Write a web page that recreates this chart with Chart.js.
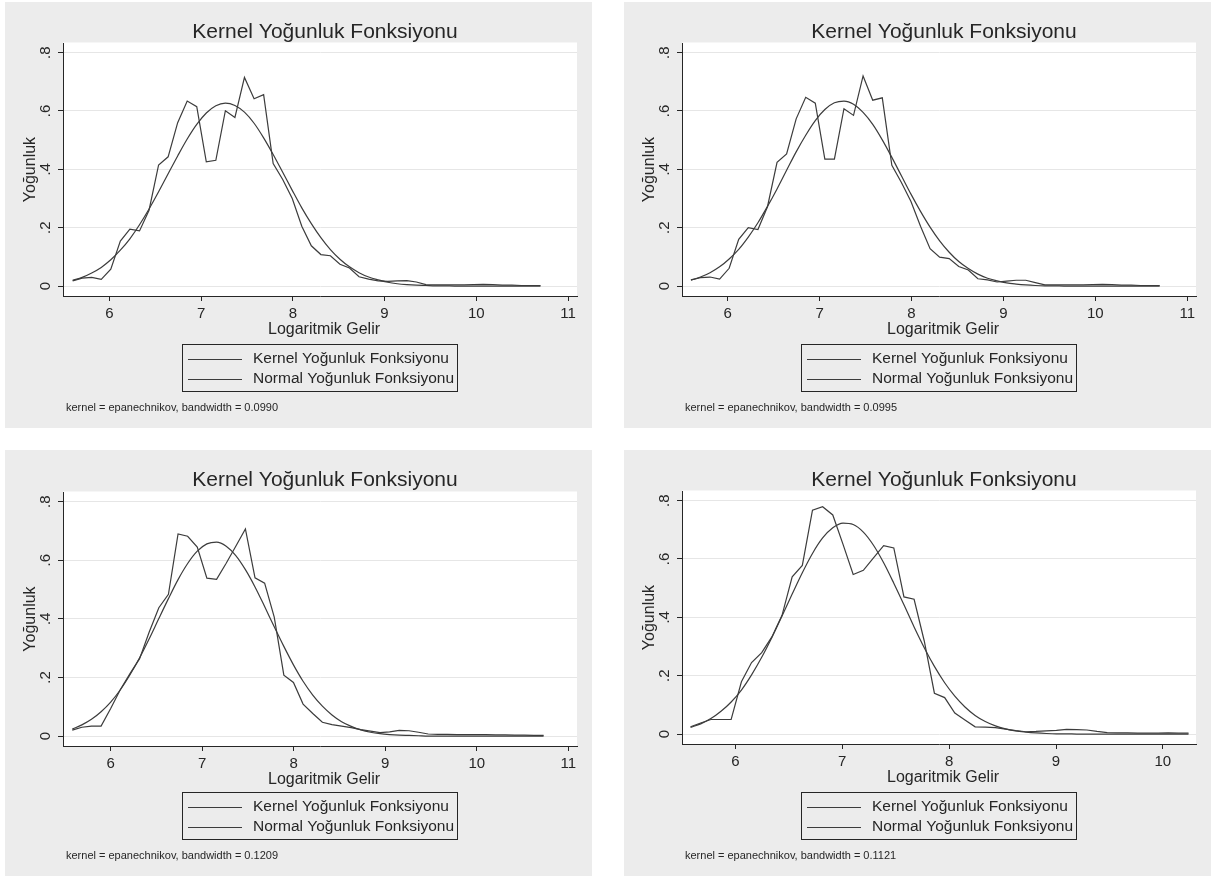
<!DOCTYPE html>
<html>
<head>
<meta charset="utf-8">
<script src="https://cdn.jsdelivr.net/npm/chart.js@4.4.0/dist/chart.umd.min.js"></script>
<style>
  body { margin: 0; background: #fff; width: 1211px; height: 878px; position: relative; overflow: hidden; }
  .panel { position: absolute; width: 587px; height: 426px; background: #ececec; }
  .panel canvas { display: block; }
</style>
</head>
<body>
<div class="panel" style="left:5px;top:2px"><canvas id="c1" width="587" height="426"></canvas></div>
<div class="panel" style="left:624px;top:2px"><canvas id="c2" width="587" height="426"></canvas></div>
<div class="panel" style="left:5px;top:450px"><canvas id="c3" width="587" height="426"></canvas></div>
<div class="panel" style="left:624px;top:450px"><canvas id="c4" width="587" height="426"></canvas></div>
<script>
// evaluation grids (logaritmik gelir)
const gridA = [5.600,5.704,5.808,5.912,6.016,6.120,6.224,6.329,6.433,6.537,6.641,6.745,6.849,6.953,7.057,7.161,7.265,7.369,7.473,7.578,7.682,7.786,7.890,7.994,8.098,8.202,8.306,8.410,8.514,8.618,8.722,8.827,8.931,9.035,9.139,9.243,9.347,9.451,9.555,9.659,9.763,9.867,9.971,10.076,10.180,10.284,10.388,10.492,10.596,10.700]
const gridC = [5.580,5.685,5.790,5.895,6.000,6.106,6.211,6.316,6.421,6.526,6.631,6.736,6.841,6.946,7.051,7.157,7.262,7.367,7.472,7.577,7.682,7.787,7.892,7.997,8.102,8.208,8.313,8.418,8.523,8.628,8.733,8.838,8.943,9.048,9.153,9.259,9.364,9.469,9.574,9.679,9.784,9.889,9.994,10.099,10.204,10.310,10.415,10.520,10.625,10.730]
const gridB = [5.580,5.675,5.770,5.865,5.960,6.056,6.151,6.246,6.341,6.436,6.531,6.626,6.721,6.816,6.911,7.007,7.102,7.197,7.292,7.387,7.482,7.577,7.672,7.767,7.862,7.958,8.053,8.148,8.243,8.338,8.433,8.528,8.623,8.718,8.813,8.909,9.004,9.099,9.194,9.289,9.384,9.479,9.574,9.669,9.764,9.860,9.955,10.050,10.145,10.240]

// kernel density values
const kernel1 = [0.018,0.027,0.030,0.023,0.058,0.154,0.195,0.189,0.260,0.415,0.443,0.560,0.634,0.615,0.426,0.431,0.601,0.578,0.715,0.642,0.656,0.420,0.365,0.300,0.205,0.138,0.108,0.104,0.075,0.062,0.032,0.024,0.018,0.016,0.018,0.019,0.014,0.005,0.004,0.004,0.004,0.004,0.005,0.006,0.005,0.003,0.003,0.002,0.002,0.002]
const kernel2 = [0.021,0.029,0.031,0.024,0.061,0.160,0.200,0.194,0.272,0.424,0.453,0.573,0.647,0.627,0.435,0.435,0.608,0.585,0.720,0.637,0.645,0.414,0.355,0.290,0.205,0.128,0.099,0.094,0.067,0.055,0.025,0.021,0.014,0.017,0.020,0.020,0.012,0.004,0.004,0.004,0.004,0.004,0.005,0.006,0.005,0.003,0.003,0.002,0.002,0.002]
const kernel3 = [0.020,0.030,0.034,0.034,0.094,0.159,0.213,0.264,0.355,0.438,0.484,0.690,0.682,0.645,0.539,0.535,0.590,0.648,0.707,0.540,0.522,0.406,0.208,0.183,0.109,0.077,0.047,0.039,0.034,0.029,0.022,0.017,0.012,0.014,0.019,0.018,0.013,0.007,0.006,0.006,0.005,0.005,0.005,0.005,0.004,0.004,0.003,0.003,0.002,0.002]
const kernel4 = [0.025,0.038,0.050,0.050,0.050,0.179,0.245,0.279,0.333,0.407,0.539,0.578,0.767,0.779,0.751,0.650,0.547,0.561,0.604,0.646,0.638,0.470,0.462,0.319,0.140,0.125,0.072,0.048,0.025,0.024,0.022,0.017,0.012,0.008,0.009,0.011,0.013,0.016,0.015,0.014,0.009,0.005,0.004,0.004,0.003,0.003,0.003,0.004,0.003,0.003]

// normal density values
const normal1 = [0.020,0.030,0.045,0.064,0.090,0.123,0.162,0.210,0.264,0.323,0.385,0.446,0.504,0.554,0.593,0.618,0.627,0.619,0.596,0.558,0.508,0.451,0.390,0.328,0.268,0.214,0.166,0.125,0.092,0.066,0.046,0.031,0.021,0.013,0.008,0.005,0.003,0.002,0.001,0.001,0,0,0,0,0,0,0,0,0,0]
const normal2 = [0.020,0.031,0.046,0.066,0.093,0.126,0.168,0.217,0.273,0.333,0.397,0.460,0.517,0.567,0.605,0.628,0.634,0.623,0.595,0.554,0.501,0.441,0.378,0.315,0.256,0.202,0.155,0.116,0.084,0.060,0.041,0.027,0.018,0.011,0.007,0.004,0.002,0.001,0.001,0,0,0,0,0,0,0,0,0,0,0]
const normal3 = [0.024,0.038,0.057,0.083,0.116,0.158,0.209,0.267,0.332,0.401,0.469,0.534,0.589,0.631,0.656,0.662,0.648,0.616,0.568,0.509,0.442,0.373,0.306,0.243,0.187,0.140,0.102,0.072,0.049,0.033,0.021,0.013,0.008,0.005,0.003,0.002,0.001,0,0,0,0,0,0,0,0,0,0,0,0,0]
const normal4 = [0.023,0.035,0.053,0.078,0.110,0.151,0.203,0.263,0.331,0.405,0.480,0.553,0.619,0.672,0.707,0.723,0.718,0.692,0.647,0.587,0.517,0.443,0.367,0.296,0.232,0.176,0.130,0.093,0.064,0.043,0.028,0.018,0.011,0.007,0.004,0.002,0.001,0.001,0,0,0,0,0,0,0,0,0,0,0,0]

const yTickValues = [0, 0.2, 0.4, 0.6, 0.8]
const yTickLabels = ['0', '.2', '.4', '.6', '.8']
const xTicksWide = [6, 7, 8, 9, 10, 11]
const xTicksNarrow = [6, 7, 8, 9, 10]
const bandwidths = ['0.0990', '0.0995', '0.1209', '0.1121']
const seriesNames = ['Kernel Yoğunluk Fonksiyonu', 'Normal Yoğunluk Fonksiyonu']

const TITLE = 'Kernel Yoğunluk Fonksiyonu'
const X_TITLE = 'Logaritmik Gelir'
const Y_TITLE = 'Yoğunluk'
const INK = '#262626'
const LINE = '#3c3c3c'
const FONT = '"Liberation Sans", Arial, sans-serif'

Chart.defaults.font.family = FONT
Chart.defaults.color = INK

// Stata-like decorations: white plot region, rotated y labels, titles, legend box, note
const stataLook = {
  id: 'stataLook',
  beforeDraw(chart) {
    const { ctx, chartArea: a } = chart
    ctx.save()
    ctx.fillStyle = '#ffffff'
    ctx.fillRect(a.left, a.top - 0.5, a.right - a.left, a.bottom - a.top + 0.5)
    ctx.restore()
  },
  afterDraw(chart, args, opts) {
    const { ctx, chartArea: a } = chart
    const yScale = chart.scales.y
    const cx = (a.left + a.right) / 2 + 4
    ctx.save()
    ctx.fillStyle = INK

    // title
    ctx.font = '21px ' + FONT
    ctx.textAlign = 'center'
    ctx.textBaseline = 'middle'
    ctx.fillText(TITLE, cx + 1, 30)

    // y tick labels, rotated like Stata
    ctx.font = '15px ' + FONT
    yTickValues.forEach((v, i) => {
      ctx.save()
      ctx.translate(a.left - 17, yScale.getPixelForValue(v))
      ctx.rotate(-Math.PI / 2)
      ctx.fillText(yTickLabels[i], 0, 0)
      ctx.restore()
    })

    // y title
    ctx.font = '16px ' + FONT
    ctx.save()
    ctx.translate(25.5, (a.top + a.bottom) / 2)
    ctx.rotate(-Math.PI / 2)
    ctx.fillText(Y_TITLE, 0, 0)
    ctx.restore()

    // x title
    ctx.fillText(X_TITLE, cx, a.bottom + 33.5)

    // legend
    const lx = 177.5, ly = 342.5, lw = 275, lh = 47
    ctx.strokeStyle = INK
    ctx.lineWidth = 1
    ctx.strokeRect(lx, ly, lw, lh)
    ctx.font = '15.5px ' + FONT
    ctx.textAlign = 'left'
    chart.data.datasets.forEach((ds, i) => {
      const yy = 357 + i * 20
      ctx.strokeStyle = ds.borderColor
      ctx.lineWidth = 1
      ctx.beginPath()
      ctx.moveTo(183, yy + 0.5)
      ctx.lineTo(237, yy + 0.5)
      ctx.stroke()
      ctx.fillText(ds.label, 248, yy)
    })

    // note
    ctx.font = '11px ' + FONT
    ctx.fillText('kernel = epanechnikov, bandwidth = ' + opts.bandwidth, 61, 405.5)
    ctx.restore()
  }
}

const panels = [
  { id: 'c1', xs: gridA, kernel: kernel1, normal: normal1, xMin: 5.495, xMax: 11.098, xTicks: xTicksWide, bw: bandwidths[0], top: 41, bottom: 92 },
  { id: 'c2', xs: gridA, kernel: kernel2, normal: normal2, xMin: 5.503, xMax: 11.095, xTicks: xTicksWide, bw: bandwidths[1], top: 41, bottom: 92 },
  { id: 'c3', xs: gridC, kernel: kernel3, normal: normal3, xMin: 5.479, xMax: 11.095, xTicks: xTicksWide, bw: bandwidths[2], top: 42, bottom: 90 },
  { id: 'c4', xs: gridB, kernel: kernel4, normal: normal4, xMin: 5.500, xMax: 10.310, xTicks: xTicksNarrow, bw: bandwidths[3], top: 41, bottom: 92 },
]

function makeChart(p) {
  new Chart(document.getElementById(p.id), {
    type: 'line',
    data: {
      datasets: [
        {
          label: seriesNames[0],
          data: p.xs.map((x, i) => ({ x: x, y: p.kernel[i] })),
          borderColor: LINE,
          borderWidth: 1.2,
          pointRadius: 0,
          tension: 0
        },
        {
          label: seriesNames[1],
          data: p.xs.map((x, i) => ({ x: x, y: p.normal[i] })),
          borderColor: LINE,
          borderWidth: 1.2,
          pointRadius: 0,
          cubicInterpolationMode: 'monotone'
        }
      ]
    },
    options: {
      responsive: false,
      animation: false,
      layout: { padding: { left: 0, top: p.top, right: 15, bottom: p.bottom } },
      plugins: {
        legend: { display: false },
        title: { display: false },
        tooltip: { enabled: false },
        stataLook: { bandwidth: p.bw }
      },
      scales: {
        x: {
          type: 'linear',
          min: p.xMin,
          max: p.xMax,
          afterBuildTicks: (scale) => { scale.ticks = p.xTicks.map(v => ({ value: v })) },
          afterFit: (scale) => { scale.height = 40 },
          grid: { drawOnChartArea: false, drawTicks: true, tickLength: 5, tickColor: INK },
          border: { display: true, color: INK, width: 1 },
          ticks: { font: { size: 15 }, color: INK, padding: 4, maxRotation: 0 }
        },
        y: {
          type: 'linear',
          min: -0.034,
          max: 0.833,
          afterBuildTicks: (scale) => { scale.ticks = yTickValues.map(v => ({ value: v })) },
          afterFit: (scale) => { scale.width = 58 },
          grid: { color: '#e6e6e6', lineWidth: 1, drawTicks: true, tickLength: 5, tickColor: INK },
          border: { display: true, color: INK, width: 1 },
          ticks: { display: false }
        }
      }
    },
    plugins: [stataLook]
  })
}

panels.forEach(makeChart)
</script>
</body>
</html>
